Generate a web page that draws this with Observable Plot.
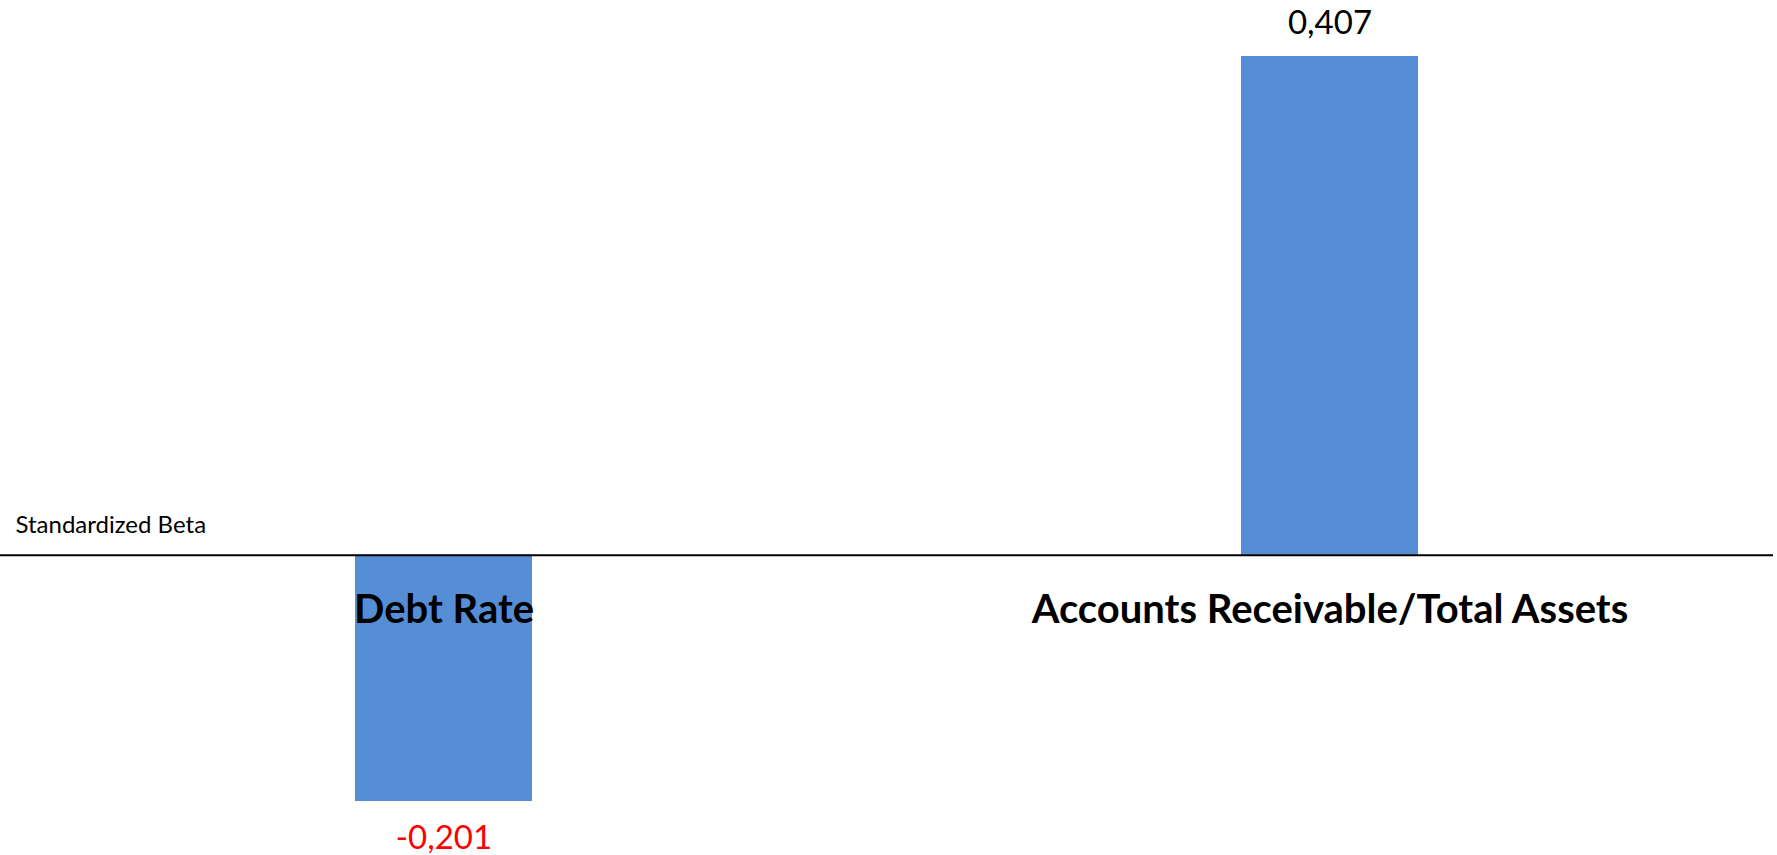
<!DOCTYPE html>
<html><head><meta charset="utf-8">
<script src="https://cdn.jsdelivr.net/npm/d3@7"></script>
<script src="https://cdn.jsdelivr.net/npm/@observablehq/plot@0.6"></script>
<style>body{margin:0;background:#fff}</style>
</head><body><div id="chart"></div>
<script>
const categories = ["Debt Rate", "Accounts Receivable/Total Assets"];
const betas = [-0.201, 0.407];
const valueLabels = ["-0,201", "0,407"];
const axisLabel = "Standardized Beta";

const data = categories.map((c, i) => ({category: c, beta: betas[i], label: valueLabels[i]}));
const font = "Lato, 'Open Sans', sans-serif";

const chart = Plot.plot({
  width: 1777,
  height: 855,
  marginTop: 56,
  marginBottom: 54,
  marginLeft: 0,
  marginRight: 4,
  style: {fontFamily: font, background: "#fff"},
  x: {domain: categories, paddingInner: 0.8, paddingOuter: 0.4, axis: null},
  y: {domain: [-0.201, 0.407], axis: null},
  marks: [
    Plot.barY(data, {x: "category", y: "beta", fill: "#558ED5"}),
    Plot.ruleY([0], {stroke: "#000", strokeWidth: 2}),
    Plot.text(data, {x: "category", y: () => 0, text: "category", dy: 68, lineAnchor: "bottom", fontSize: 40, fontWeight: "bold", fill: "#000"}),
    Plot.text(data.filter(d => d.beta >= 0), {x: "category", y: "beta", text: "label", dy: -23, lineAnchor: "bottom", fontSize: 33, fill: "#000"}),
    Plot.text(data.filter(d => d.beta < 0), {x: "category", y: "beta", text: "label", dy: 47, lineAnchor: "bottom", fontSize: 33, fill: "#ff0000"}),
    Plot.text([axisLabel], {y: () => 0, text: d => d, frameAnchor: "left", textAnchor: "start", dx: 15, dy: -22, lineAnchor: "bottom", fontSize: 24, fill: "#000"})
  ]
});
document.getElementById("chart").appendChild(chart);
</script>
</body></html>
